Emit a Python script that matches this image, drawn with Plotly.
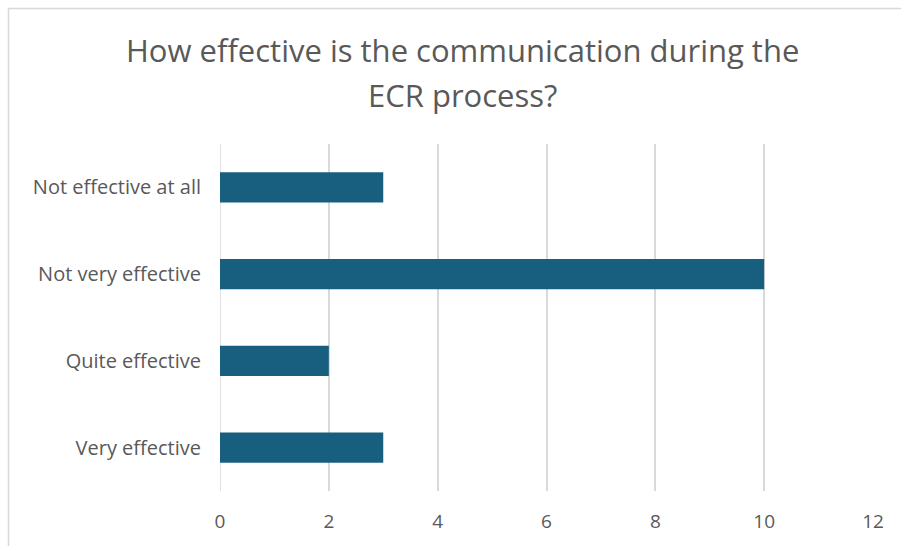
import plotly.graph_objects as go

# Survey responses
categories = ["Not effective at all", "Not very effective", "Quite effective", "Very effective"]
counts = [3, 10, 2, 3]
x_ticks = [0, 2, 4, 6, 8, 10, 12]

title_lines = ["How effective is the communication during the", "ECR process?"]

bar_color = "#185f7f"
text_color = "#595959"
grid_color = "#d9d9d9"
font_family = "Open Sans, Noto Sans, sans-serif"

fig = go.Figure(
    go.Bar(
        x=counts,
        y=categories,
        orientation="h",
        marker=dict(color=bar_color, line=dict(width=0)),
        width=0.35,
    )
)

# two-line chart title, placed as separate lines for wider line spacing
title_y = [1.2709, 1.1412]
annotations = [
    dict(
        text=line,
        xref="paper",
        yref="paper",
        x=0.3706,
        y=y,
        xanchor="center",
        yanchor="middle",
        showarrow=False,
        font=dict(size=31, color=text_color, family=font_family),
    )
    for line, y in zip(title_lines, title_y)
]

fig.update_layout(
    width=901,
    height=546,
    paper_bgcolor="white",
    plot_bgcolor="white",
    margin=dict(l=220, r=28, t=144, b=55),
    showlegend=False,
    font=dict(family=font_family, color=text_color),
    annotations=annotations,
    xaxis=dict(
        range=[0, 12],
        tickvals=x_ticks,
        showgrid=True,
        gridcolor=grid_color,
        gridwidth=1.5,
        zeroline=False,
        showline=False,
        ticks="",
        ticklabelstandoff=17,
        tickfont=dict(size=19, color=text_color),
    ),
    yaxis=dict(
        categoryorder="array",
        categoryarray=categories[::-1],
        showgrid=False,
        zeroline=False,
        showline=False,
        ticks="",
        ticklabelstandoff=18,
        tickfont=dict(size=20, color=text_color),
    ),
    shapes=[
        # chart frame (partly cut off on right and bottom)
        dict(
            type="rect",
            xref="paper",
            yref="paper",
            x0=-0.3239,
            x1=1.2,
            y0=-0.3,
            y1=1.3905,
            line=dict(color=grid_color, width=1.5),
            fillcolor="rgba(0,0,0,0)",
            layer="below",
        ),
        # zero line drawn as a gridline
        dict(
            type="line",
            xref="x",
            yref="paper",
            x0=0,
            x1=0,
            y0=0,
            y1=1,
            line=dict(color=grid_color, width=1.5),
            layer="below",
        ),
    ],
)

fig.write_html("out.html")
